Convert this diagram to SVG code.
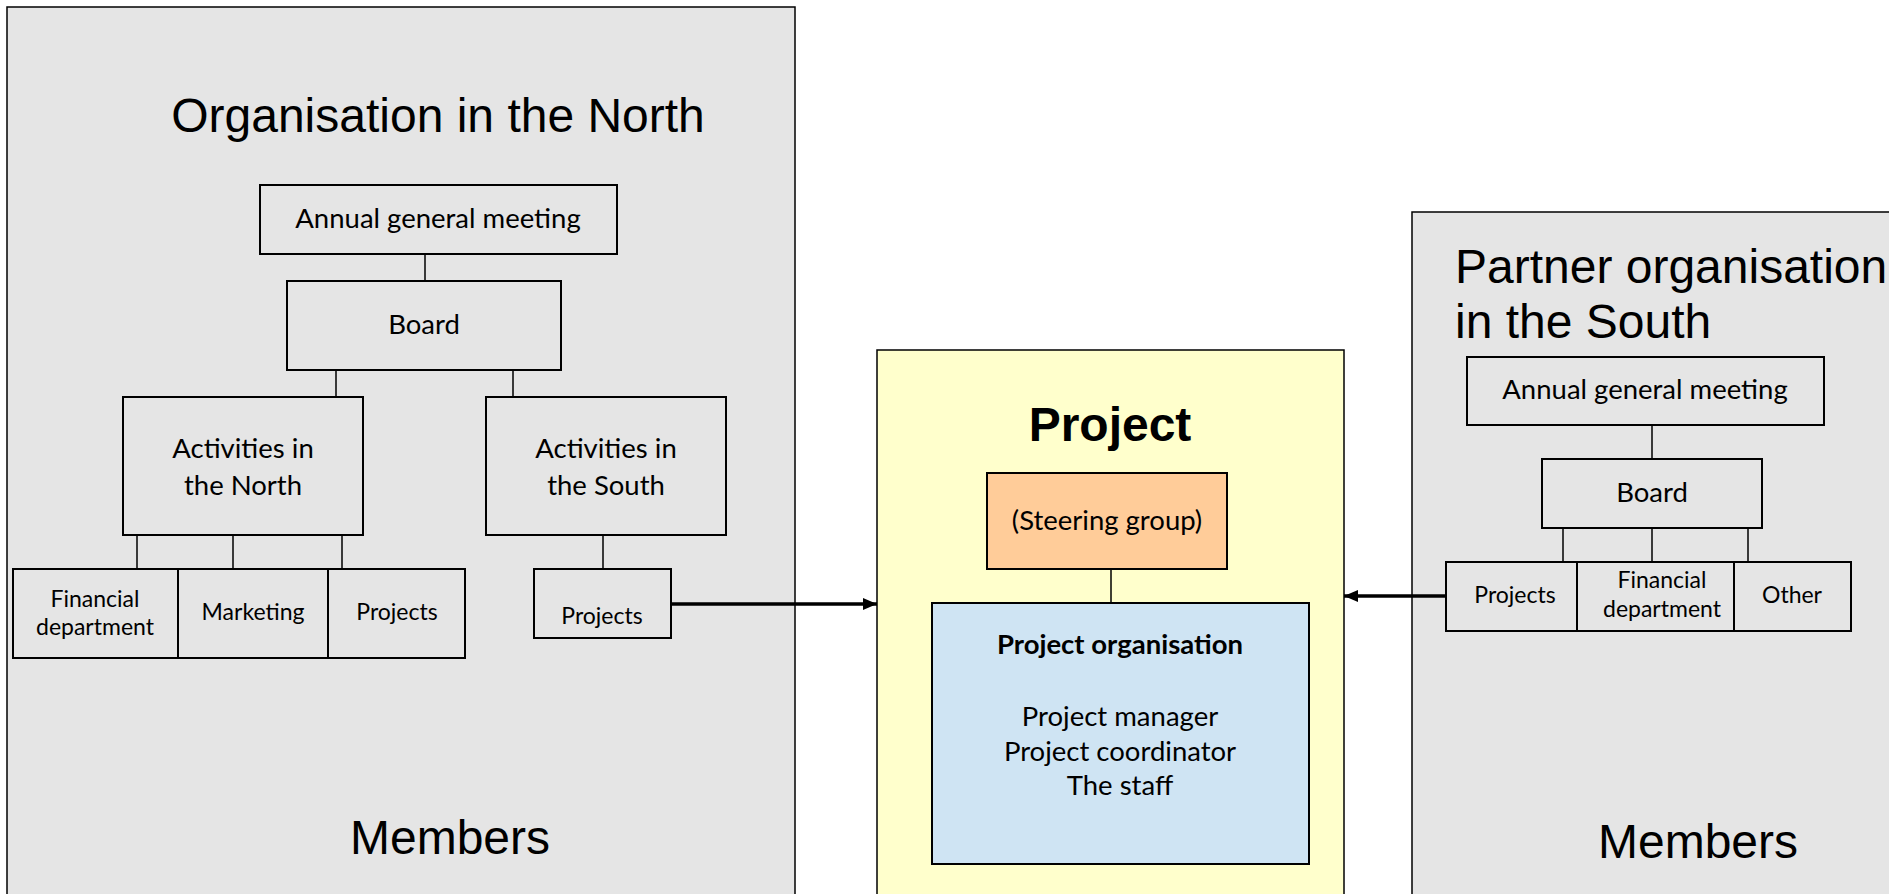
<svg xmlns="http://www.w3.org/2000/svg" width="1889" height="894" viewBox="0 0 1889 894">
  <defs>
    <style>
      .org{fill:#e5e5e5;stroke:#000;stroke-width:1.5}
      .box{fill:#e5e5e5;stroke:#000;stroke-width:2}
      .head{font-family:"Liberation Sans",Arial,sans-serif;font-size:48px;fill:#000}
      .lbl{font-family:Lato,"Open Sans",sans-serif;font-size:27.5px;fill:#000;text-anchor:middle}
      .sm{font-size:23px}
      .bold{font-weight:bold}
      .ln{stroke:#000;stroke-width:1.5;fill:none}
      .arr{stroke:#000;stroke-width:3.5;fill:none;marker-end:url(#ah)}
    </style>
    <marker id="ah" markerUnits="userSpaceOnUse" markerWidth="14" markerHeight="12" refX="14" refY="6" orient="auto">
      <path d="M0,0 L14,6 L0,12 z" fill="#000"/>
    </marker>
  </defs>

  <rect width="1889" height="894" fill="#fff"/>

  <!-- Organisation in the North -->
  <g id="north">
    <rect class="org" x="7" y="7" width="788" height="900"/>
    <text class="head" x="438" y="132" text-anchor="middle">Organisation in the North</text>
    <text class="head" x="450" y="854" text-anchor="middle">Members</text>
  </g>
  <g id="north-agm">
    <rect class="box" x="260" y="185" width="357" height="69"/>
    <text class="lbl" x="438" y="228">Annual general meeting</text>
  </g>
  <g id="north-board">
    <rect class="box" x="287" y="281" width="274" height="89"/>
    <text class="lbl" x="424" y="334">Board</text>
  </g>
  <g id="north-act-north">
    <rect class="box" x="123" y="397" width="240" height="138"/>
    <text class="lbl" x="243" y="458">Activities in</text>
    <text class="lbl" x="243" y="495">the North</text>
  </g>
  <g id="north-act-south">
    <rect class="box" x="486" y="397" width="240" height="138"/>
    <text class="lbl" x="606" y="458">Activities in</text>
    <text class="lbl" x="606" y="495">the South</text>
  </g>
  <g id="north-financial">
    <rect class="box" x="13" y="569" width="165" height="89"/>
    <text class="lbl sm" x="95" y="607">Financial</text>
    <text class="lbl sm" x="95" y="635">department</text>
  </g>
  <g id="north-marketing">
    <rect class="box" x="178" y="569" width="150" height="89"/>
    <text class="lbl sm" x="253" y="620">Marketing</text>
  </g>
  <g id="north-projects">
    <rect class="box" x="328" y="569" width="137" height="89"/>
    <text class="lbl sm" x="397" y="620">Projects</text>
  </g>
  <g id="north-south-projects">
    <rect class="box" x="534" y="569" width="137" height="69"/>
    <text class="lbl sm" x="602" y="624">Projects</text>
  </g>

  <!-- Project -->
  <g id="project">
    <rect x="877" y="350" width="467" height="560" fill="#ffffcc" stroke="#000" stroke-width="1.5"/>
    <text class="head bold" x="1110" y="441" text-anchor="middle">Project</text>
  </g>
  <g id="steering">
    <rect x="987" y="473" width="240" height="96" fill="#ffcc99" stroke="#000" stroke-width="2"/>
    <text class="lbl" x="1107" y="530">(Steering group)</text>
  </g>
  <g id="project-org">
    <rect x="932" y="603" width="377" height="261" fill="#cfe4f3" stroke="#000" stroke-width="2"/>
    <text class="lbl bold" x="1120" y="654">Project organisation</text>
    <text class="lbl" x="1120" y="726">Project manager</text>
    <text class="lbl" x="1120" y="761">Project coordinator</text>
    <text class="lbl" x="1120" y="795">The staff</text>
  </g>

  <!-- Partner organisation in the South -->
  <g id="south">
    <rect class="org" x="1412" y="212" width="500" height="700"/>
    <text class="head" x="1455" y="283">Partner organisation</text>
    <text class="head" x="1455" y="338">in the South</text>
    <text class="head" x="1698" y="858" text-anchor="middle">Members</text>
  </g>
  <g id="south-agm">
    <rect class="box" x="1467" y="357" width="357" height="68"/>
    <text class="lbl" x="1645" y="399">Annual general meeting</text>
  </g>
  <g id="south-board">
    <rect class="box" x="1542" y="459" width="220" height="69"/>
    <text class="lbl" x="1652" y="502">Board</text>
  </g>
  <g id="south-projects">
    <rect class="box" x="1446" y="562" width="131" height="69"/>
    <text class="lbl sm" x="1515" y="603">Projects</text>
  </g>
  <g id="south-financial">
    <rect class="box" x="1577" y="562" width="157" height="69"/>
    <text class="lbl sm" x="1662" y="588">Financial</text>
    <text class="lbl sm" x="1662" y="617">department</text>
  </g>
  <g id="south-other">
    <rect class="box" x="1734" y="562" width="117" height="69"/>
    <text class="lbl sm" x="1792" y="603">Other</text>
  </g>

  <!-- Connectors -->
  <g id="connectors">
    <path class="ln" d="M425,254 V281 M336,370 V397 M513,370 V397 M137,535 V569 M233,535 V569 M342,535 V569 M603,535 V569"/>
    <path class="ln" d="M1111,569 V603"/>
    <path class="ln" d="M1652,425 V459 M1563,528 V562 M1652,528 V562 M1748,528 V562"/>
    <path class="arr" d="M671,604 H877"/>
    <path class="arr" d="M1446,596 H1344"/>
  </g>
</svg>
